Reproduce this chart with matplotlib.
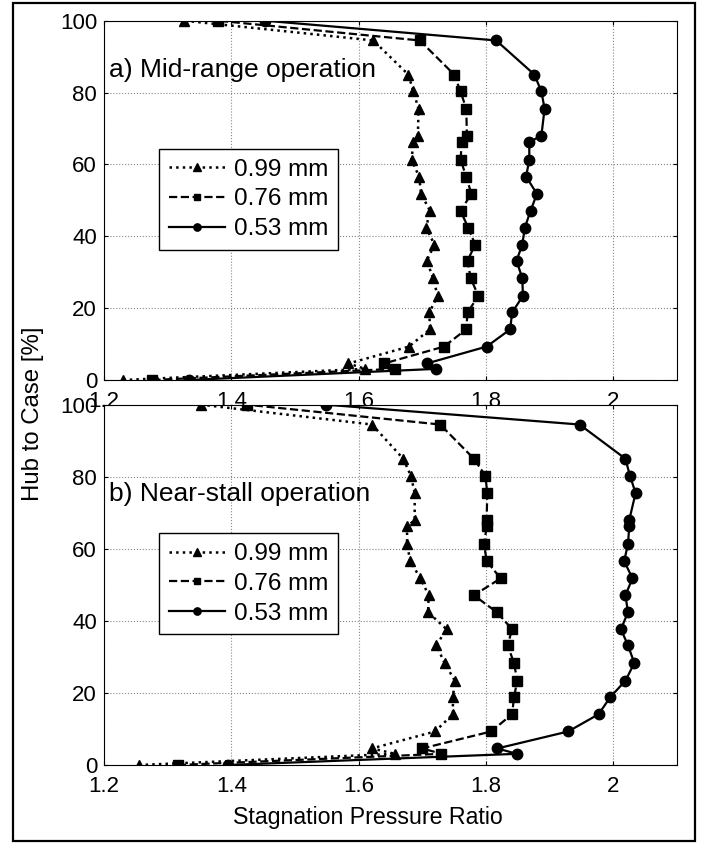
import matplotlib
matplotlib.use('Agg')
import matplotlib.pyplot as plt
from matplotlib.patches import Rectangle
from matplotlib.ticker import FuncFormatter

plt.rcParams['font.family'] = ['Liberation Sans', 'DejaVu Sans']

# hub-to-case position [%], shared by every curve
span = [0, 3.1, 4.6, 9.3, 14.1, 18.8, 23.4, 28.3, 33.2, 37.7, 42.4, 47.1,
        51.8, 56.6, 61.3, 66.2, 68.0, 75.5, 80.3, 85.0, 94.5, 100]

# a) mid-range operation
tri_a = [1.230, 1.610, 1.584, 1.679, 1.712, 1.711, 1.724, 1.717, 1.707, 1.719, 1.706,
         1.712, 1.698, 1.695, 1.683, 1.686, 1.693, 1.694, 1.686, 1.678, 1.623, 1.326]
sq_a = [1.276, 1.657, 1.640, 1.734, 1.769, 1.771, 1.788, 1.776, 1.771, 1.783, 1.772,
        1.760, 1.777, 1.769, 1.760, 1.762, 1.770, 1.769, 1.760, 1.750, 1.696, 1.379]
ci_a = [1.333, 1.722, 1.707, 1.801, 1.838, 1.841, 1.858, 1.857, 1.848, 1.857, 1.861,
        1.870, 1.880, 1.863, 1.868, 1.868, 1.887, 1.892, 1.887, 1.876, 1.816, 1.453]

# b) near-stall operation
tri_b = [1.255, 1.657, 1.621, 1.720, 1.748, 1.748, 1.751, 1.735, 1.722, 1.738, 1.709,
         1.710, 1.697, 1.681, 1.676, 1.676, 1.688, 1.688, 1.682, 1.670, 1.621, 1.353]
sq_b = [1.316, 1.730, 1.700, 1.808, 1.841, 1.844, 1.849, 1.844, 1.834, 1.841, 1.817,
        1.781, 1.823, 1.801, 1.797, 1.801, 1.801, 1.802, 1.799, 1.781, 1.728, 1.425]
ci_b = [1.395, 1.848, 1.818, 1.929, 1.977, 1.995, 2.019, 2.033, 2.023, 2.012, 2.023,
        2.019, 2.030, 2.017, 2.023, 2.025, 2.025, 2.035, 2.026, 2.019, 1.947, 1.549]

labels = ['0.99 mm', '0.76 mm', '0.53 mm']
titles = ['a) Mid-range operation', 'b) Near-stall operation']
xticks = [1.2, 1.4, 1.6, 1.8, 2.0]
yticks = [0, 20, 40, 60, 80, 100]

fig = plt.figure(figsize=(7.02, 8.44), dpi=100)

# outer frame
fig.patches.append(Rectangle((13 / 702, 3 / 844), 682 / 702, 838 / 844,
                             transform=fig.transFigure, fill=False,
                             edgecolor='black', linewidth=1.6))

ax_a = fig.add_axes([104 / 702, 1 - 380 / 844, 573 / 702, 359.3 / 844])
ax_b = fig.add_axes([104 / 702, 1 - 765 / 844, 573 / 702, 360.3 / 844])

panels = [(ax_a, tri_a, sq_a, ci_a, 0.863), (ax_b, tri_b, sq_b, ci_b, 0.752)]
for i, (ax, tri, sq, ci, ty) in enumerate(panels):
    ax.plot(tri, span, 'k:', marker='^', ms=7.5, lw=1.8, label=labels[0])
    ax.plot(sq, span, 'k--', marker='s', ms=7, lw=1.6, label=labels[1])
    ax.plot(ci, span, 'k-', marker='o', ms=7.5, lw=1.6, label=labels[2])
    ax.set_xlim(1.2, 2.1)
    ax.set_ylim(0, 100)
    ax.set_xticks(xticks)
    ax.set_yticks(yticks)
    ax.xaxis.set_major_formatter(FuncFormatter(lambda v, p: '%g' % v))
    ax.tick_params(direction='in', length=3, width=0.8, labelsize=16, pad=5,
                   top=True, right=True)
    ax.tick_params(axis='x', pad=8)
    ax.grid(True, color='#888888', linestyle=':', linewidth=0.8)
    for sp in ax.spines.values():
        sp.set_linewidth(0.8)
    ax.text(0.008, ty, titles[i], transform=ax.transAxes, fontsize=19,
            ha='left', va='center')
    leg = ax.legend(loc='upper left', bbox_to_anchor=(0.096, 0.643), borderaxespad=0,
                    fontsize=17.5, frameon=True, fancybox=False, framealpha=1,
                    edgecolor='black', handlelength=2.3, handletextpad=0.4,
                    labelspacing=0.32, borderpad=0.4, markerscale=0.7)
    leg.get_frame().set_linewidth(1.0)

ax_b.set_xlabel('Stagnation Pressure Ratio', fontsize=16.7)
ax_b.xaxis.set_label_coords(0.46, -0.113)
fig.text(33 / 702, 1 - 414 / 844, 'Hub to Case [%]', rotation=90, fontsize=17.3,
         ha='center', va='center')

fig.savefig('out.png', dpi=100)
